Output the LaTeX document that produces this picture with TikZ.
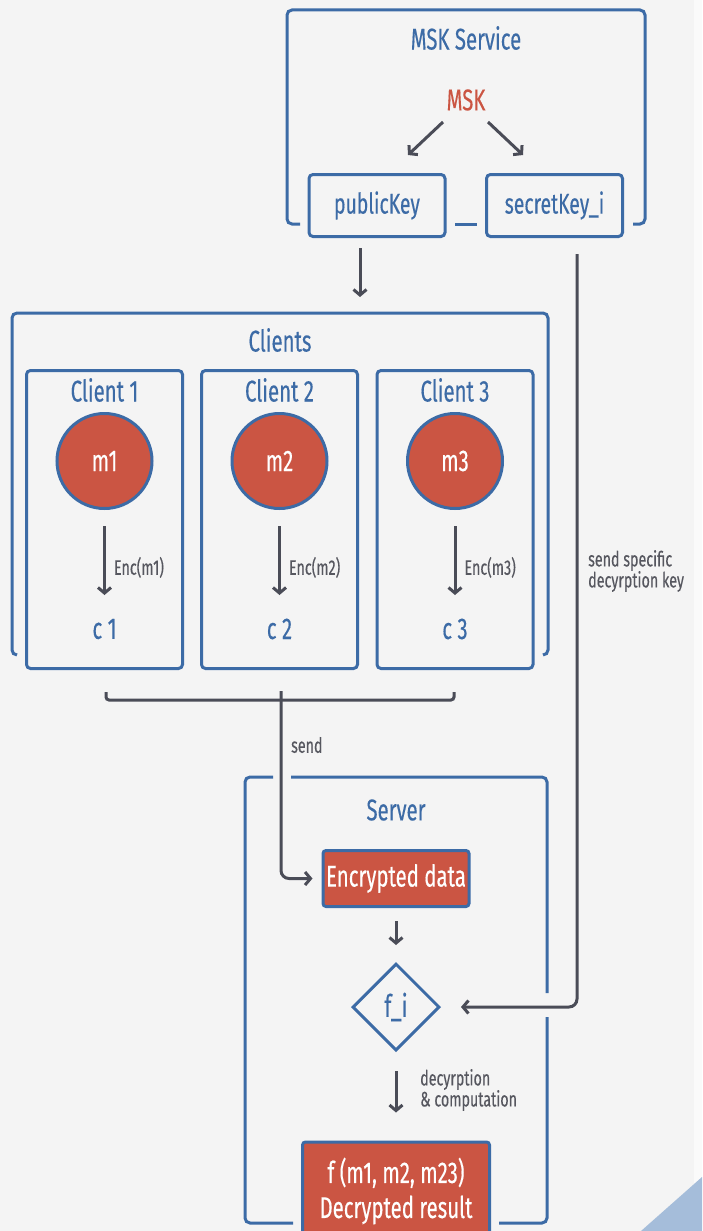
\documentclass[tikz,border=0pt]{standalone}
\usepackage{fontspec}
\setmainfont{Fira Sans}[FakeStretch=0.68, FakeBold=0.3]
\usetikzlibrary{arrows.meta,shapes.geometric}

\definecolor{bgcol}{HTML}{F4F4F4}
\definecolor{edgecol}{HTML}{FAFAFA}
\definecolor{framecol}{HTML}{3C6BA6}
\definecolor{redcol}{HTML}{CB5543}
\definecolor{arrowcol}{HTML}{4A4C57}
\definecolor{labelcol}{HTML}{56575F}
\definecolor{cornercol}{HTML}{A5BDDA}

\tikzset{
  group/.style={draw=framecol, line width=3pt, rounded corners=5pt},
  heading/.style={text=framecol, font=\fontsize{30}{33}\selectfont},
  keybox/.style={draw=framecol, fill=bgcol, line width=3pt, rounded corners=4pt, text=framecol, font=\fontsize{28.5}{30}\selectfont, minimum width=136pt, minimum height=62pt, inner sep=0pt},
  clientbox/.style={draw=framecol, line width=3pt, rounded corners=4pt, minimum width=156pt, minimum height=298pt, inner sep=0pt},
  msg/.style={circle, draw=framecol, fill=redcol, line width=3pt, minimum size=95pt, inner sep=0pt, text=white, font=\fontsize{30}{33}\selectfont},
  cipher/.style={text=framecol, font=\fontsize{30}{33}\selectfont, inner sep=0pt},
  databox/.style={draw=framecol, fill=redcol, line width=3pt, rounded corners=3pt, text=white, font=\fontsize{30}{35}\selectfont, inner sep=0pt, align=center},
  fnode/.style={diamond, aspect=1, draw=framecol, fill=bgcol, line width=3pt, minimum size=87pt, inner sep=0pt, text=framecol, font=\fontsize{31}{33}\selectfont},
  arr/.style={draw=arrowcol, line width=3pt, -{Straight Barb[length=5.5pt,width=13pt]}},
  conn/.style={draw=arrowcol, line width=3pt},
  lbl/.style={text=labelcol, font=\fontsize{21}{21}\selectfont, inner sep=0pt, align=left},
}

\begin{document}
\begin{tikzpicture}[x=1pt, y=-1pt]
\useasboundingbox (0,0) rectangle (702,1231);
\fill[bgcol] (0,0) rectangle (694,1231);
\fill[edgecol] (694,0) rectangle (702,1231);
\fill[cornercol] (641,1231) -- (702,1177) -- (702,1231) -- cycle;

% MSK service
\draw[group] (300,224) -- (287,224) -- (287,10) -- (645,10) -- (645,224) -- (633,224);
\draw[group] (455,224) -- (477,224);
\node[heading] (svc) at (466,38) {MSK Service};
\node[heading, text=redcol] (msk) at (466,100) {MSK};
\node[keybox] (pub) at (377,205.5) {publicKey};
\node[keybox] (sec) at (554.5,205.5) {secretKey\_i};
\draw[arr] ([shift={(-23,22)}]msk.center) -- ([shift={(31,-18)}]pub.north);
\draw[arr] ([shift={(22,22)}]msk.center) -- ([shift={(-31.5,-18)}]sec.north);

% clients
\coordinate (cliTop) at (360,297);
\draw[arr] ([shift={(-17,10)}]pub.south) -- (cliTop);
\draw[group] (17,655) -- (12,655) -- (12,313) -- (548,313) -- (548,655) -- (543,655);
\node[heading] (cli) at (280,340) {Clients};

\node[clientbox] (cl1) at (104.5,519.5) {};
\node[heading] (t1) at ([yshift=-21pt]cl1.north) {Client 1};
\node[msg] (m1) at ([yshift=-92pt]cl1.north) {m1};
\node[cipher] (c1) at ([yshift=-260pt]cl1.north) {c 1};
\draw[arr] ([yshift=-16pt]m1.south) -- ([yshift=34pt]c1.center) node[lbl, pos=0.6, right=8pt] {Enc(m1)};

\node[clientbox] (cl2) at (279.5,519.5) {};
\node[heading] (t2) at ([yshift=-21pt]cl2.north) {Client 2};
\node[msg] (m2) at ([yshift=-92pt]cl2.north) {m2};
\node[cipher] (c2) at ([yshift=-260pt]cl2.north) {c 2};
\draw[arr] ([yshift=-16pt]m2.south) -- ([yshift=34pt]c2.center) node[lbl, pos=0.6, right=8pt] {Enc(m2)};

\node[clientbox] (cl3) at (455,519.5) {};
\node[heading] (t3) at ([yshift=-21pt]cl3.north) {Client 3};
\node[msg] (m3) at ([yshift=-92pt]cl3.north) {m3};
\node[cipher] (c3) at ([yshift=-260pt]cl3.north) {c 3};
\draw[arr] ([yshift=-16pt]m3.south) -- ([yshift=34pt]c3.center) node[lbl, pos=0.6, right=8pt] {Enc(m3)};

% send to server
\coordinate (brk) at (281,691);
\draw[conn, rounded corners=3pt] (106,692) -- (106,700) -- (454,700) -- (454,692);

% server
\draw[group] (291,777) -- (547,777) -- (547,993);
\draw[group] (547,1017) -- (547,1223) -- (499,1223);
\draw[group] (293,1223) -- (245,1223) -- (245,777) -- (273,777);
\node[heading] (srv) at (396,810) {Server};
\node[databox, minimum width=146pt, minimum height=56pt] (enc) at (396,878.5) {Encrypted data};
\draw[arr, rounded corners=8pt, shorten >=9pt] (brk) |- (enc.west);
\node[lbl, anchor=west] (sendlbl) at (291,745) {send};

\node[fnode] (fi) at (396,1007) {f\_i};
\draw[arr, shorten <=13pt, shorten >=17pt] (enc) -- (fi);
\draw[arr, rounded corners=8pt, shorten >=20pt] ([shift={(22.5,16)}]sec.south) |- (fi.east);
\node[lbl, anchor=west] (keylbl) at (588,571) {send specific\\decyrption key};

\node[databox, minimum width=187pt, minimum height=98pt, anchor=north] (res) at (396,1140.5) {f (m1, m2, m23)\\Decrypted result};
\draw[arr, shorten <=19pt, shorten >=28pt] (fi) -- (res);
\node[lbl, anchor=west] (complbl) at (420,1090) {decyrption\\\& computation};
\end{tikzpicture}
\end{document}
